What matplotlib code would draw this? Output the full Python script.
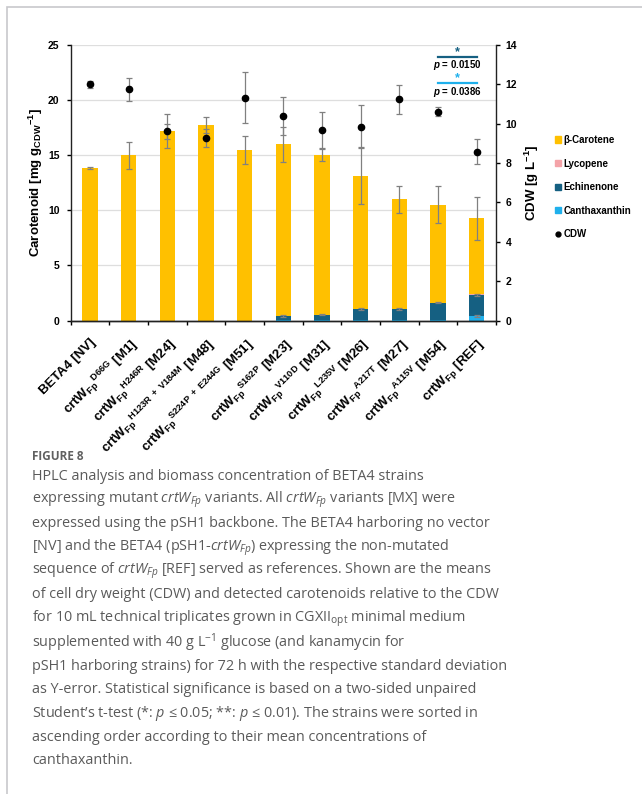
import numpy as np
import matplotlib
matplotlib.use('Agg')
import matplotlib.pyplot as plt
from matplotlib.lines import Line2D
from matplotlib.patches import Patch, Rectangle

plt.rcParams['font.family'] = ['Liberation Sans', 'DejaVu Sans']
plt.rcParams['mathtext.fontset'] = 'custom'
plt.rcParams['mathtext.rm'] = 'Open Sans'
plt.rcParams['mathtext.it'] = 'Open Sans:italic'
plt.rcParams['mathtext.bf'] = 'Liberation Sans:bold'
plt.rcParams['mathtext.bfit'] = 'Liberation Sans:italic:bold'

# strains (mutation, code) sorted by canthaxanthin
mutations = ['', 'D66G', 'H246R', 'H123R + V184M', 'S224P + E244G', 'S162P',
             'V110D', 'L235V', 'A217T', 'A115V', '']
codes = ['NV', 'M1', 'M24', 'M48', 'M51', 'M23', 'M31', 'M26', 'M27', 'M54', 'REF']

# carotenoids [mg g_CDW^-1]
beta_carotene = [13.83, 14.98, 17.18, 17.73, 15.46, 15.56, 14.47, 12.08, 9.94, 8.88, 6.84]
lycopene      = [0, 0, 0, 0, 0, 0, 0, 0, 0, 0, 0.10]
echinenone    = [0, 0, 0, 0, 0, 0.40, 0.50, 1.01, 1.01, 1.57, 1.91]
canthaxanthin = [0, 0, 0, 0, 0, 0.02, 0.03, 0.05, 0.05, 0.06, 0.42]
total_err     = [0.05, 1.2, 1.5, 0.7, 1.3, 1.6, 0.55, 2.6, 1.2, 1.66, 1.96]
ech_err       = [0, 0, 0, 0, 0, 0.08, 0.05, 0.05, 0.05, 0.05, 0.08]
can_err       = [0, 0, 0, 0, 0, 0, 0, 0, 0, 0, 0.08]

# cell dry weight [g L^-1]
cdw     = [11.99, 11.74, 9.60, 9.27, 11.31, 10.38, 9.67, 9.84, 11.23, 10.60, 8.57]
cdw_err = [0.17, 0.59, 0.38, 0.45, 1.29, 0.98, 0.90, 1.10, 0.72, 0.23, 0.64]

c_beta = '#FFC000'
c_lyc = '#F4A3A8'
c_ech = '#156082'
c_can = '#1FB0EC'
err_kw = dict(ecolor='#808080', elinewidth=0.9, capsize=2.2, capthick=0.9)

fig = plt.figure(figsize=(6.42, 7.94), dpi=100)
ax = fig.add_axes([0.110, 0.5961, 0.6626, 0.3476])
ax2 = ax.twinx()

x = np.arange(len(codes))
can = np.array(canthaxanthin)
ech = np.array(echinenone)
lyc = np.array(lycopene)
bet = np.array(beta_carotene)
w = 0.4
ax.bar(x, can, w, color=c_can, zorder=2)
ax.bar(x, ech, w, bottom=can, color=c_ech, zorder=2)
ax.bar(x, lyc, w, bottom=can + ech, color=c_lyc, zorder=2)
ax.bar(x, bet, w, bottom=can + ech + lyc, color=c_beta, zorder=2)
tot = can + ech + lyc + bet
ax.errorbar(x, tot, yerr=total_err, fmt='none', zorder=3, **err_kw)
m = ech > 0
ax.errorbar(x[m], (can + ech)[m], yerr=np.array(ech_err)[m], fmt='none', zorder=3, **err_kw)
m = np.array(can_err) > 0
ax.errorbar(x[m], can[m], yerr=np.array(can_err)[m], fmt='none', zorder=3, **err_kw)

ax2.errorbar(x, cdw, yerr=cdw_err, fmt='o', color='black', ms=4.5, zorder=4, **err_kw)

ax.set_xlim(-0.5, len(codes) - 0.5)
ax.set_ylim(0, 25)
ax2.set_ylim(0, 14)
ax.set_yticks(np.arange(0, 26, 5))
ax2.set_yticks(np.arange(0, 15, 2))
ax.yaxis.grid(True, color='#dedede', lw=0.9, zorder=0)
ax.set_axisbelow(True)
for a in (ax, ax2):
    a.spines['top'].set_visible(False)
    for s in a.spines.values():
        s.set_linewidth(1.0)
        s.set_color('#222222')
ax2.spines['left'].set_visible(False)
ax.spines['right'].set_visible(False)
ax.tick_params(axis='y', labelsize=7.5, length=3, width=1, pad=5)
ax2.tick_params(axis='y', labelsize=7.5, length=3, width=1, pad=4)
for t in ax.get_yticklabels() + ax2.get_yticklabels():
    t.set_fontweight('bold')

labels = []
for mut, code in zip(mutations, codes):
    if code == 'NV':
        labels.append('BETA4 [NV]')
    elif mut == '':
        labels.append(r'crtW$_{\mathbf{Fp}}$ [' + code + ']')
    else:
        mm = mut.replace(' ', r'\ ')
        labels.append(r'crtW$_{\mathbf{Fp}}$$^{\mathbf{' + mm + '}}$ [' + code + ']')
ax.set_xticks(x)
ax.set_xticklabels(labels, rotation=45, ha='right', rotation_mode='anchor',
                   fontsize=9.5, fontweight='bold')
ax.tick_params(axis='x', length=0, pad=11)
ax.set_xticks(np.arange(-0.5, len(codes), 1), minor=True)
ax.tick_params(axis='x', which='minor', length=3, width=1)

ax.set_ylabel(r'Carotenoid [mg g$_{\mathbf{CDW}}$$^{\mathbf{-1}}$]', fontsize=9.5,
              fontweight='bold', labelpad=2)
ax2.set_ylabel(r'CDW [g L$^{\mathbf{-1}}$]', fontsize=9.5, fontweight='bold', labelpad=4)

# significance marks
ax.plot([9, 10], [23.9, 23.9], color=c_ech, lw=1.6, zorder=5, clip_on=False)
ax.text(9.5, 24.35, '*', color=c_ech, ha='center', va='center', fontsize=9, fontweight='bold')
ax.text(9.5, 23.2, r'$\mathbfit{p}$ = 0.0150', ha='center', va='center', fontsize=7, fontweight='bold')
ax.plot([9, 10], [21.5, 21.5], color=c_can, lw=1.6, zorder=5)
ax.text(9.5, 21.95, '*', color=c_can, ha='center', va='center', fontsize=9, fontweight='bold')
ax.text(9.5, 20.75, r'$\mathbfit{p}$ = 0.0386', ha='center', va='center', fontsize=7, fontweight='bold')

handles = [Patch(color=c_beta), Patch(color=c_lyc), Patch(color=c_ech), Patch(color=c_can),
           Line2D([], [], ls='none', marker='o', color='black', ms=3.5)]
names = ['β-Carotene', 'Lycopene', 'Echinenone', 'Canthaxanthin', 'CDW']
fig.legend(handles, names, loc='center left', bbox_to_anchor=(0.857, 0.7642), frameon=False,
           prop={'size': 7, 'weight': 'bold'}, handlelength=0.6, handleheight=0.6,
           handletextpad=0.3, labelspacing=1.4, borderpad=0)

# card border
fig.patches.append(Rectangle((7 / 642, -0.1), 1.2, (794 - 7) / 794 + 0.1, transform=fig.transFigure,
                             fill=False, edgecolor='#c8c8cc', lw=1.2))

cap = ['HPLC analysis and biomass concentration of BETA4 strains',
       r'expressing mutant $crtW_{Fp}$ variants. All $crtW_{Fp}$ variants [MX] were',
       'expressed using the pSH1 backbone. The BETA4 harboring no vector',
       r'[NV] and the BETA4 (pSH1-$crtW_{Fp}$) expressing the non-mutated',
       r'sequence of $crtW_{Fp}$ [REF] served as references. Shown are the means',
       'of cell dry weight (CDW) and detected carotenoids relative to the CDW',
       r'for 10 mL technical triplicates grown in CGXII$_{\mathrm{opt}}$ minimal medium',
       r'supplemented with 40 g L$^{\mathrm{-1}}$ glucose (and kanamycin for',
       'pSH1 harboring strains) for 72 h with the respective standard deviation',
       'as Y-error. Statistical significance is based on a two-sided unpaired',
       r'Student’s t-test (*: $p$ ≤ 0.05; **: $p$ ≤ 0.01). The strains were sorted in',
       'ascending order according to their mean concentrations of',
       'canthaxanthin.']
fig.text(32 / 642, 1 - 456 / 794, 'FIGURE 8', fontsize=8.5, color='#606060', fontweight='bold',
         family='Open Sans', va='center')
for i, line in enumerate(cap):
    fig.text(32 / 642, 1 - (476 + i * 23.75) / 794, line, fontsize=10.4, color='#5a5a5a',
             family='Open Sans', va='center')

fig.savefig('out.png', dpi=100)
